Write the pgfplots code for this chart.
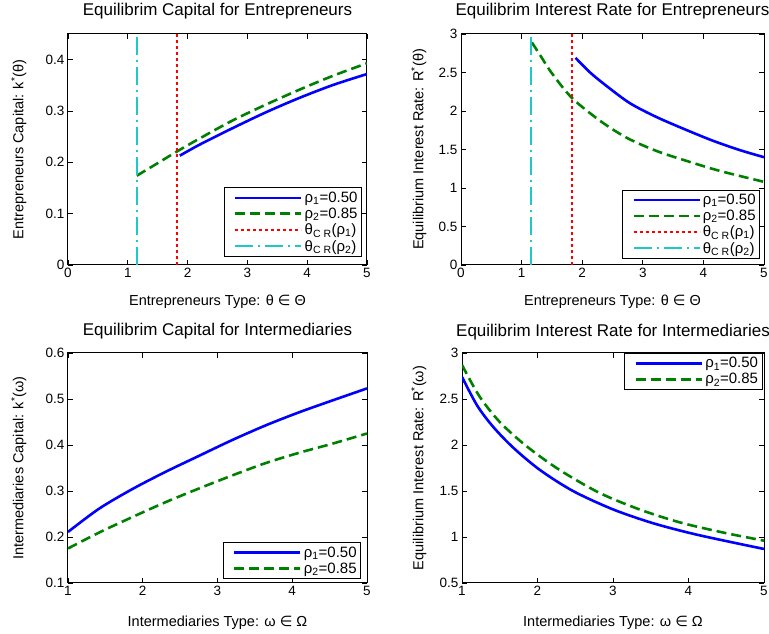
\documentclass[border=0pt]{standalone}
\usepackage{fontspec}
\setmainfont{Liberation Sans}
\newfontfamily\symfont{DejaVu Sans}
\usepackage{pgfplots}
\pgfplotsset{compat=1.18}

\definecolor{mblue}{RGB}{0,0,255}
\definecolor{mgreen}{RGB}{0,128,0}
\definecolor{mred}{RGB}{255,0,0}
\definecolor{mcyan}{RGB}{30,200,200}

\pgfplotsset{
  panel/.style={
    scale only axis,
    anchor=south west,
    axis line style={line width=1pt},
    tick style={line width=0.8pt,black},
    major tick length=5pt,
    tick align=inside,
    /pgf/number format/assume math mode=true,
    /pgf/number format/fixed,
    tick label style={font=\fontsize{13.5}{15}\selectfont},
    label style={font=\fontsize{14.5}{17}\selectfont},
    title style={font=\fontsize{17}{20}\selectfont, anchor=base},
    legend style={draw=black, line width=0.8pt, font=\fontsize{15}{17}\selectfont,
      inner sep=2pt, row sep=0pt, cells={anchor=west}},
    legend image code/.code={\path (0pt,0pt); \draw[##1] (8pt,0pt) -- (74pt,0pt);},
    every axis plot/.append style={smooth},
  },
  rhoone/.style={mblue, line width=2.6pt, solid},
  rhotwo/.style={mgreen, line width=2.6pt, dash pattern=on 10pt off 5pt},
  crone/.style={draw=mred, line width=2pt, dash pattern=on 3pt off 3pt, sharp plot},
  crtwo/.style={draw=mcyan, line width=2pt, dash pattern=on 18pt off 5pt on 2pt off 5pt, sharp plot},
}

\newcommand{\elem}{{\symfont ∈}}

\begin{document}
\begin{tikzpicture}
\path[use as bounding box] (0pt,0pt) rectangle (769pt,634pt);

% Capital for entrepreneurs
\begin{axis}[panel, at={(68pt,369pt)}, width=299pt, height=231pt,
  xmin=0, xmax=5, ymin=0, ymax=0.45,
  xtick={0,1,2,3,4,5}, ytick={0,0.1,0.2,0.3,0.4},
  title={Equilibrim Capital for Entrepreneurs},
  title style={at={(axis description cs:0.5,1.056)}},
  xlabel={Entrepreneurs Type: θ \elem{} Θ},
  xlabel style={at={(axis description cs:0.5,-0.177)}, anchor=base},
  ylabel={Entrepreneurs Capital: k\textsuperscript{*}(θ)},
  ylabel style={at={(axis description cs:-0.149,0.5)}, anchor=base},
  legend style={at={(0.983,0.035)}, anchor=south east},
]
\addplot[rhoone] coordinates {(1.87,0.213) (2.21,0.235) (2.76,0.267) (3.32,0.298) (3.88,0.326) (4.44,0.351) (5.0,0.372)};
\addlegendentry{ρ\textsubscript{1}=0.50}
\addplot[rhotwo] coordinates {(1.15,0.174) (1.48,0.197) (1.82,0.221) (2.21,0.247) (2.76,0.282) (3.32,0.313) (3.88,0.342) (4.44,0.369) (5.0,0.393)};
\addlegendentry{ρ\textsubscript{2}=0.85}
\addplot[crone] coordinates {(1.83,0) (1.83,0.45)};
\addlegendentry{θ\textsubscript{C R}(ρ\textsubscript{1})}
\addplot[crtwo] coordinates {(1.15,0) (1.15,0.45)};
\addlegendentry{θ\textsubscript{C R}(ρ\textsubscript{2})}
\end{axis}

% Interest rate for entrepreneurs
\begin{axis}[panel, at={(461pt,369pt)}, width=303pt, height=231pt,
  xmin=0, xmax=5, ymin=0, ymax=3,
  xtick={0,1,2,3,4,5}, ytick={0,0.5,1,1.5,2,2.5,3},
  title={Equilibrim Interest Rate for Entrepreneurs},
  title style={at={(axis description cs:0.5,1.056)}},
  xlabel={Entrepreneurs Type: θ \elem{} Θ},
  xlabel style={at={(axis description cs:0.5,-0.177)}, anchor=base},
  ylabel={Equilibrium Interest Rate: R\textsuperscript{*}(θ)},
  ylabel style={at={(axis description cs:-0.124,0.5)}, anchor=base},
  legend style={at={(0.987,0.026)}, anchor=south east},
]
\addplot[rhoone] coordinates {(1.89,2.69) (2.13,2.50) (2.41,2.32) (2.79,2.10) (3.23,1.92) (3.73,1.75) (4.17,1.61) (4.61,1.49) (5.0,1.40)};
\addlegendentry{ρ\textsubscript{1}=0.50}
\addplot[rhotwo] coordinates {(1.17,2.89) (1.31,2.72) (1.5,2.49) (1.83,2.17) (2.30,1.87) (2.74,1.65) (3.23,1.48) (3.73,1.35) (4.28,1.22) (5.0,1.08)};
\addlegendentry{ρ\textsubscript{2}=0.85}
\addplot[crone] coordinates {(1.83,0) (1.83,3)};
\addlegendentry{θ\textsubscript{C R}(ρ\textsubscript{1})}
\addplot[crtwo] coordinates {(1.15,0) (1.15,3)};
\addlegendentry{θ\textsubscript{C R}(ρ\textsubscript{2})}
\end{axis}

% Capital for intermediaries
\begin{axis}[panel, at={(68pt,51pt)}, width=299pt, height=230pt,
  xmin=1, xmax=5, ymin=0.1, ymax=0.6,
  xtick={1,2,3,4,5}, ytick={0.1,0.2,0.3,0.4,0.5,0.6},
  title={Equilibrim Capital for Intermediaries},
  title style={at={(axis description cs:0.5,1.052)}},
  xlabel={Intermediaries Type: ω \elem{} Ω},
  xlabel style={at={(axis description cs:0.5,-0.191)}, anchor=base},
  ylabel={Intermediaries Capital: k\textsuperscript{*}(ω)},
  ylabel style={at={(axis description cs:-0.149,0.5)}, anchor=base},
  legend style={at={(0.98,0.017)}, anchor=south east},
]
\addplot[rhoone] coordinates {(1.0,0.211) (1.42,0.262) (1.87,0.305) (2.31,0.342) (2.76,0.377) (3.20,0.411) (3.65,0.443) (4.09,0.471) (4.54,0.497) (5.0,0.523)};
\addlegendentry{ρ\textsubscript{1}=0.50}
\addplot[rhotwo] coordinates {(1.0,0.175) (1.42,0.210) (1.87,0.244) (2.31,0.276) (2.76,0.306) (3.20,0.334) (3.65,0.361) (4.09,0.383) (4.54,0.403) (5.0,0.425)};
\addlegendentry{ρ\textsubscript{2}=0.85}
\end{axis}

% Interest rate for intermediaries
\begin{axis}[panel, at={(462pt,51pt)}, width=302pt, height=230pt,
  xmin=1, xmax=5, ymin=0.5, ymax=3,
  xtick={1,2,3,4,5}, ytick={0.5,1,1.5,2,2.5,3},
  title={Equilibrim Interest Rate for Intermediaries},
  title style={at={(axis description cs:0.5,1.045)}},
  xlabel={Intermediaries Type: ω \elem{} Ω},
  xlabel style={at={(axis description cs:0.5,-0.191)}, anchor=base},
  ylabel={Equilibrium Interest Rate: R\textsuperscript{*}(ω)},
  ylabel style={at={(axis description cs:-0.128,0.5)}, anchor=base},
  legend style={at={(0.995,1)}, anchor=north east},
]
\addplot[rhoone] coordinates {(1.0,2.74) (1.2,2.43) (1.41,2.20) (1.68,1.97) (2.03,1.73) (2.47,1.50) (3.0,1.30) (3.53,1.15) (4.06,1.035) (4.59,0.94) (5.0,0.87)};
\addlegendentry{ρ\textsubscript{1}=0.50}
\addplot[rhotwo] coordinates {(1.0,2.87) (1.23,2.53) (1.5,2.25) (1.85,1.99) (2.29,1.73) (2.82,1.48) (3.35,1.30) (3.88,1.16) (4.45,1.05) (5.0,0.96)};
\addlegendentry{ρ\textsubscript{2}=0.85}
\end{axis}
\end{tikzpicture}
\end{document}
